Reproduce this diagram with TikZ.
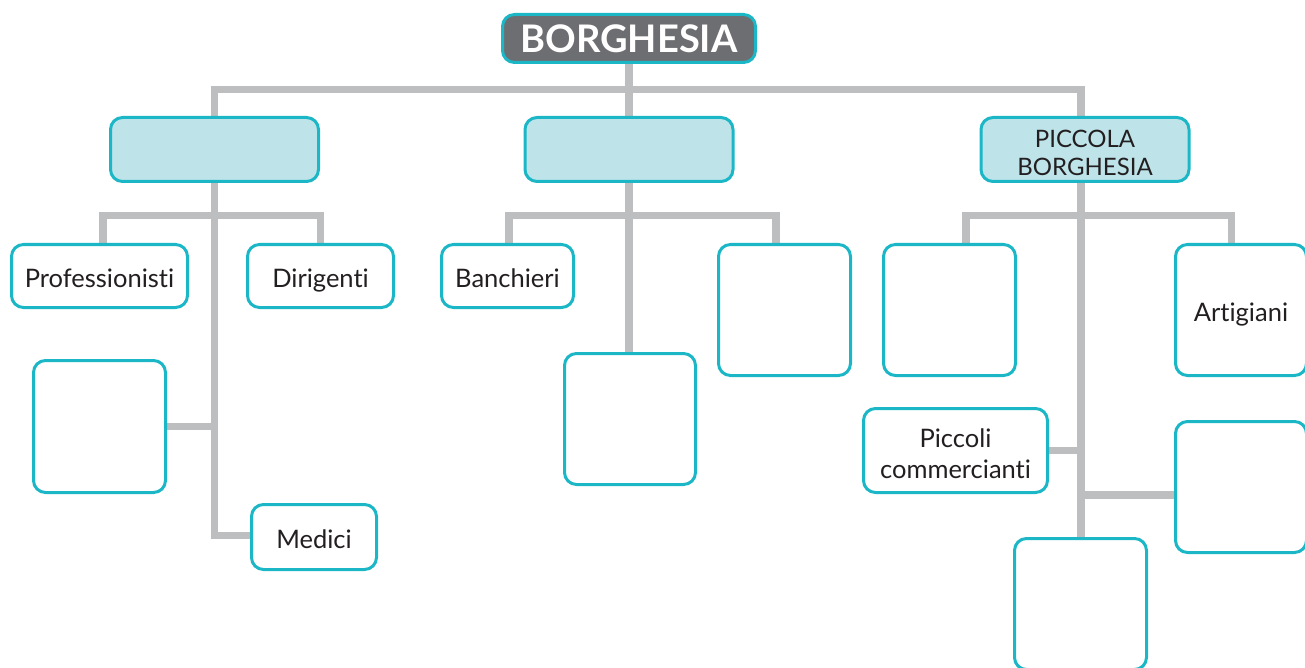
\documentclass[tikz,border=0pt]{standalone}
\usepackage{fontspec}
\setmainfont{Lato}[Ligatures={NoCommon,NoRequired,NoContextual}]
\usetikzlibrary{backgrounds}
\definecolor{teal}{HTML}{1BB7C6}
\definecolor{lightfill}{HTML}{BEE4EA}
\definecolor{darkbox}{HTML}{6D6E71}
\definecolor{conngray}{HTML}{BCBEC0}
\definecolor{txt}{HTML}{231F20}
\tikzset{
  box/.style={draw=teal, line width=3pt, rounded corners=12pt, fill=white, inner sep=0pt,
    text=txt, align=center, font=\fontsize{25.5}{31}\selectfont},
  single/.style={text height=22pt, text depth=0pt},
  lvltwo/.style={box, fill=lightfill, minimum width=208pt, minimum height=64pt},
  topbox/.style={box, fill=darkbox, text=white, minimum width=253pt, minimum height=48pt,
    font=\fontsize{38}{40}\selectfont\bfseries, text height=28pt, text depth=0pt},
  conn/.style={draw=conngray, line width=7.5pt, line join=miter, line cap=butt}
}
\begin{document}
\begin{tikzpicture}[x=1pt,y=-1pt]
\useasboundingbox (0,0) rectangle (1305,668);
\clip (0,0) rectangle (1305,668);
% top
\node[topbox] (top) at (629,38.5) {BORGHESIA};
% level two
\node[lvltwo] (A) at (214.5,149.5) {};
\node[lvltwo] (B) at (629,149.5) {};
\node[lvltwo, font=\fontsize{24}{28}\selectfont] (C) at (1085,149.5) {\rule{0pt}{25pt}PICCOLA\\BORGHESIA};
% left subtree
\node[box, single, minimum width=176pt, minimum height=63pt] (Prof) at (99.5,276) {Professionisti};
\node[box, single, minimum width=146pt, minimum height=63pt] (Dir) at (320.5,276) {Dirigenti};
\node[box, minimum width=132pt, minimum height=132pt] (E1) at (99.5,426.5) {};
\node[box, single, minimum width=125pt, minimum height=65pt] (Med) at (314,537) {Medici};
% middle subtree
\node[box, single, minimum width=132pt, minimum height=63pt] (Ban) at (507.5,276) {Banchieri};
\node[box, minimum width=132pt, minimum height=131pt] (Emr) at (784.5,310) {};
\node[box, minimum width=131pt, minimum height=131pt] (Emb) at (630,419) {};
% right subtree
\node[box, minimum width=132pt, minimum height=131pt] (Er1) at (949.5,310) {};
\node[box, single, minimum width=131pt, minimum height=131pt] (Art) at (1241,310) {Artigiani};
\node[box, minimum width=184pt, minimum height=84pt] (Picc) at (955.5,450.5) {\rule{0pt}{26pt}Piccoli\\commercianti};
\node[box, minimum width=131pt, minimum height=131pt] (Er2) at (1241,487) {};
\node[box, minimum width=132pt, minimum height=131pt] (Ebot) at (1080.5,604) {};
% junctions
\coordinate (bar0) at (629,89.5);
\coordinate (jL) at (214.5,215.5);
\coordinate (jM) at (629,215.5);
\coordinate (jR) at (1081,215.5);
\begin{scope}[on background layer]
\draw[conn] (top.south) -- (B.north);
\draw[conn] (A.north) |- (bar0) -| ([xshift=-4pt]C.north);
% left
\draw[conn] ([xshift=3.5pt]Prof.north) |- (jL) -| (Dir.north);
\draw[conn] (A.south) |- ([yshift=1.5pt]Med.west);
\draw[conn] (E1.east) -- (E1.east -| A.south);
% middle
\draw[conn] ([xshift=1.5pt]Ban.north) |- (jM) -| ([xshift=-8.5pt]Emr.north);
\draw[conn] (B.south) -- (B.south |- Emb.north);
% right
\draw[conn] ([xshift=-4pt]C.south) -- ([xshift=-4pt]C.south |- Ebot.north);
\draw[conn] ([xshift=16.5pt]Er1.north) |- (jR) -| ([xshift=-9.5pt]Art.north);
\draw[conn] (Picc.east) -- (Picc.east -| jR);
\draw[conn] ([yshift=-8pt]Er2.west) -- ([yshift=-8pt]Er2.west -| jR);
\end{scope}
\end{tikzpicture}
\end{document}
